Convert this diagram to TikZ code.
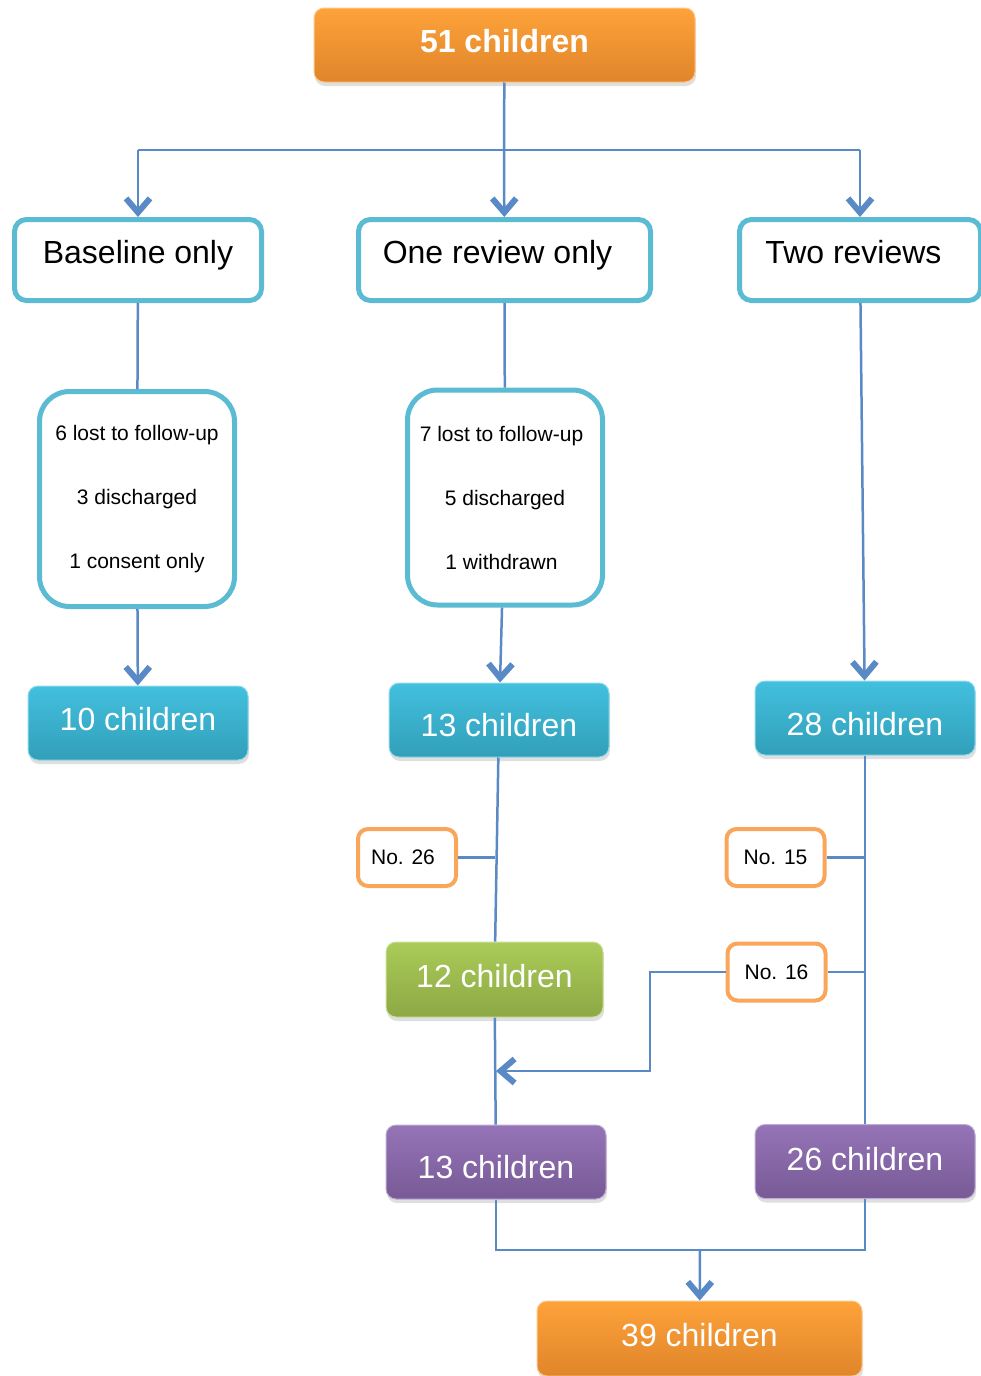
\documentclass[tikz,border=0pt]{standalone}
\usepackage{fontspec}
\setmainfont{Liberation Sans}
\usepackage{tikz}
\usetikzlibrary{arrows.meta,shadows}

\definecolor{linkblue}{HTML}{5A8AC6}
\definecolor{tealline}{HTML}{5BBBD3}
\definecolor{noline}{HTML}{F9A65A}
\definecolor{orgtop}{HTML}{FEA23A}
\definecolor{orgbot}{HTML}{E0852A}
\definecolor{tealtop}{HTML}{42C0DE}
\definecolor{tealbot}{HTML}{329FBA}
\definecolor{grntop}{HTML}{AACB58}
\definecolor{grnbot}{HTML}{8DA845}
\definecolor{purtop}{HTML}{9574B7}
\definecolor{purbot}{HTML}{785A96}

\begin{document}
\begin{tikzpicture}[x=1pt, y=-1pt,
  link/.style = {linkblue, line width=2.5pt},
  arr/.style = {link, -{Straight Barb[length=14pt, width=24pt, line width=6pt]}},
  cnt/.style 2 args = {rectangle, rounded corners=10pt, top color=#1, bottom color=#2, draw=#1!60!white, line width=1pt,
    minimum width=220pt, minimum height=74pt, inner sep=0pt, text=white, font=\fontsize{32pt}{38pt}\selectfont,
    drop shadow={opacity=0.25, shadow xshift=1pt, shadow yshift=-4pt}},
  grp/.style = {rectangle, rounded corners=12pt, draw=tealline, line width=5pt, fill=white,
    minimum height=81pt, inner sep=0pt, text height=26pt, text depth=20pt, font=\fontsize{32pt}{38pt}\selectfont},
  loss/.style = {rectangle, rounded corners=30pt, draw=tealline, line width=5pt, fill=white,
    minimum width=195pt, minimum height=215pt, inner sep=0pt, align=center, font=\fontsize{21pt}{64pt}\selectfont},
  nobox/.style = {rectangle, rounded corners=10pt, draw=noline, line width=4pt, fill=white,
    minimum width=98pt, minimum height=57pt, inner sep=0pt, font=\fontsize{21pt}{25pt}\selectfont}]
\useasboundingbox (0,0) rectangle (980,1376);

\node[cnt={orgtop}{orgbot}, minimum width=381pt, text height=23pt, text depth=8pt, font=\fontsize{32pt}{38pt}\bfseries\selectfont] (top) at (504.5,45) {51 children};

\node[grp, minimum width=247pt] (base) at (138,260) {Baseline only};
\node[grp, minimum width=292pt] (one) at (504.5,260) {One review only\hspace*{14pt}};
\node[grp, minimum width=241pt] (two) at (860,260) {Two reviews\hspace*{13pt}};

\node[loss] (lossa) at (137,499) {6 lost to follow-up\\3 discharged\\1 consent only};
\node[loss] (lossb) at (505,497.5) {7 lost to follow-up\hspace*{7pt}\\5 discharged\hspace*{7pt}\\1 withdrawn\hspace*{7pt}};

\node[cnt={tealtop}{tealbot}, text height=23pt, text depth=8pt] (tca) at (138,723) {10 children};
\node[cnt={tealtop}{tealbot}, text height=33pt, text depth=0pt] (tcb) at (499,720) {13 children};
\node[cnt={tealtop}{tealbot}, text height=35pt, text depth=0pt] (tcc) at (865,718) {28 children};

\node[nobox] (no26) at (407,857.5) {No. 26\hspace*{8pt}};
\node[nobox] (no15) at (775.5,857.5) {No. 15};
\node[nobox] (no16) at (776.5,972) {No. 16};

\node[cnt={grntop}{grnbot}, minimum width=217pt, minimum height=75pt, text height=23pt, text depth=8pt] (gr12) at (494.5,979.5) {12 children};

\node[cnt={purtop}{purbot}, text height=33pt, text depth=0pt] (pua) at (496,1162) {13 children};
\node[cnt={purtop}{purbot}, text height=23pt, text depth=6pt] (pub) at (865,1161.5) {26 children};

\node[cnt={orgtop}{orgbot}, minimum width=325pt, minimum height=75pt, text height=23pt, text depth=8pt] (final) at (699.5,1338.5) {39 children};

\coordinate (split) at (504,150);
\coordinate (bend) at (650,1071);
\coordinate (join) at (700,1250);

\draw[link] (top) -- (split);
\draw[link] (split -| base) -- (split -| two);
\draw[arr] (split -| base) -- (base);
\draw[arr] (split) -- (one);
\draw[arr] (split -| two) -- (two);

\draw[link] (base) -- (lossa);
\draw[arr] (lossa) -- (tca);
\draw[link] (one) -- (lossb);
\draw[arr] (lossb) -- (tcb);
\draw[arr] (two) -- (tcc);

\draw[link] (tcb) -- (gr12);
\draw[link] (no26) -- (no26 -| gr12);
\draw[link] (gr12) -- (pua);
\draw[arr] (no16) -| (bend) -- (bend -| pua);

\draw[link] (tcc) -- (pub);
\draw[link] (no15) -- (no15 -| tcc);
\draw[link] (no16) -- (no16 -| tcc);

\draw[link] (pua) |- (join) -| (pub);
\draw[arr] (join) -- (final);
\end{tikzpicture}
\end{document}
